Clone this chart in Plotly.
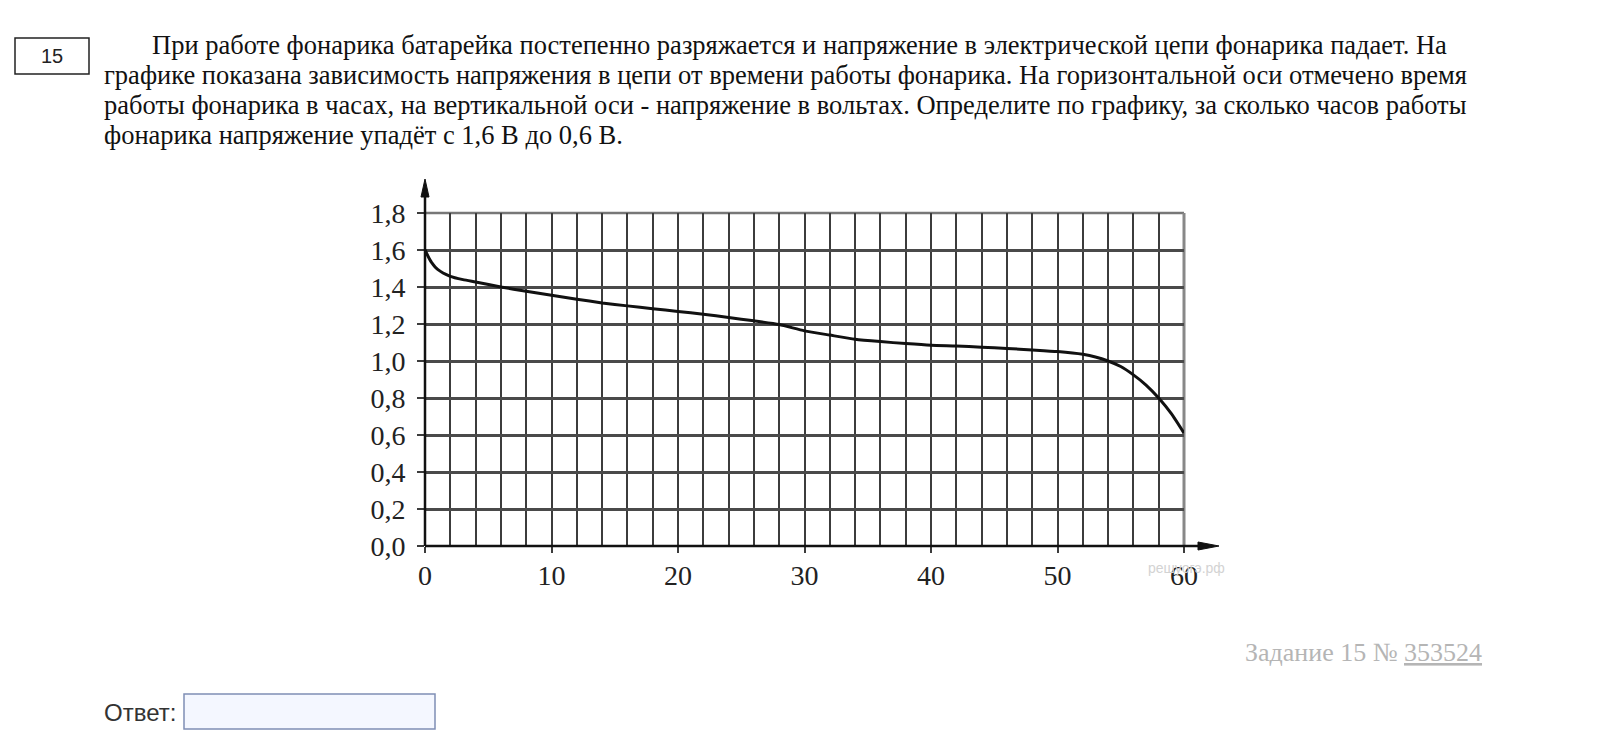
import plotly.graph_objects as go

# ---- data ----
hours = [0, 0.25, 0.5, 1, 2, 3, 4, 6, 8, 10, 12, 14, 16, 18, 20, 22, 24, 26, 28, 30,
         32, 34, 36, 38, 40, 42, 44, 46, 48, 50, 52, 53, 54, 55, 56, 57, 58, 59, 60]
voltage = [1.60, 1.565, 1.535, 1.495, 1.458, 1.44, 1.427, 1.40, 1.377, 1.355, 1.334,
           1.314, 1.298, 1.283, 1.268, 1.253, 1.235, 1.217, 1.197, 1.163, 1.14,
           1.118, 1.105, 1.094, 1.085, 1.081, 1.075, 1.068, 1.06, 1.051, 1.036,
           1.022, 1.0, 0.97, 0.925, 0.87, 0.80, 0.715, 0.61]
x_tick_vals = [0, 10, 20, 30, 40, 50, 60]
y_tick_vals = [0.0, 0.2, 0.4, 0.6, 0.8, 1.0, 1.2, 1.4, 1.6, 1.8]

question_lines = [
    "При работе фонарика батарейка постепенно разряжается и напряжение в электрической цепи фонарика падает. На",
    "графике показана зависимость напряжения в цепи от времени работы фонарика. На горизонтальной оси отмечено время",
    "работы фонарика в часах, на вертикальной оси - напряжение в вольтах. Определите по графику, за сколько часов работы",
    "фонарика напряжение упадёт с 1,6 В до 0,6 В.",
]
task_number = "15"
task_ref = "Задание 15 № <u>353524</u>"
answer_label = "Ответ:"
watermark = "решуогэ.рф"

OFF = 8                      # default page (body) margin of the html page
W, H = 1620 - OFF, 755 - OFF
PLOT_X0, PLOT_X1 = 425, 1184  # plot area in window pixels
PLOT_Y0, PLOT_Y1 = 213, 546
L = PLOT_X0 - OFF
T = PLOT_Y0 - OFF
PW = PLOT_X1 - PLOT_X0
PH = PLOT_Y1 - PLOT_Y0
R = W - L - PW
B = H - T - PH


def px(x):  # window pixel x -> paper
    return (x - PLOT_X0) / PW


def py(y):  # window pixel y -> paper
    return (PLOT_Y1 - y) / PH


SERIF = "Liberation Serif, Times New Roman, serif"
SANS = "Liberation Sans, Arial, sans-serif"

fig = go.Figure()
fig.add_trace(go.Scatter(
    x=hours, y=voltage, mode="lines",
    line=dict(color="#111111", width=3, shape="spline", smoothing=0.6),
    hoverinfo="skip", showlegend=False,
))

grid_col = "#3c3c3c"
fig.update_xaxes(
    range=[0, 60], tickmode="array", tickvals=x_tick_vals,
    showgrid=True, gridcolor=grid_col, gridwidth=2,
    minor=dict(tickmode="linear", tick0=0, dtick=2, showgrid=True,
               gridcolor=grid_col, gridwidth=2, ticks=""),
    ticks="outside", ticklen=6, tickwidth=2, tickcolor=grid_col,
    ticklabelstandoff=-2,
    tickfont=dict(family=SERIF, size=28, color="#222"),
    zeroline=False, showline=False, fixedrange=True,
)
fig.update_yaxes(
    range=[0, 1.8], tickmode="array", tickvals=y_tick_vals, tickformat=".1f",
    showgrid=True, gridcolor="#4a4a4a", gridwidth=2.5,
    ticks="outside", ticklen=7, tickwidth=2, tickcolor=grid_col,
    ticklabelstandoff=6,
    tickfont=dict(family=SERIF, size=28, color="#222"),
    zeroline=False, showline=False, fixedrange=True,
)

shapes = []
# frame lines at the top (1.8) and right (60)
shapes.append(dict(type="line", xref="paper", yref="paper",
                   x0=0, y0=1, x1=1, y1=1,
                   line=dict(color="#777", width=2.5), layer="below"))
shapes.append(dict(type="line", xref="paper", yref="paper",
                   x0=1, y0=0, x1=1, y1=1,
                   line=dict(color="#888", width=3), layer="below"))
# axes with arrows
shapes.append(dict(type="line", xref="paper", yref="paper",
                   x0=px(425), y0=py(546), x1=px(425), y1=py(192),
                   line=dict(color="#111", width=2.5), layer="above"))
shapes.append(dict(type="path", xref="paper", yref="paper",
                   path=f"M {px(425)},{py(179)} L {px(421)},{py(197)} L {px(429)},{py(197)} Z",
                   fillcolor="#111", line=dict(color="#111", width=1), layer="above"))
shapes.append(dict(type="line", xref="paper", yref="paper",
                   x0=px(425), y0=py(546), x1=px(1205), y1=py(546),
                   line=dict(color="#111", width=2.5), layer="above"))
shapes.append(dict(type="path", xref="paper", yref="paper",
                   path=f"M {px(1219)},{py(546)} L {px(1198)},{py(542)} L {px(1198)},{py(550)} Z",
                   fillcolor="#111", line=dict(color="#111", width=1), layer="above"))
# task number box
shapes.append(dict(type="rect", xref="paper", yref="paper",
                   x0=px(15), y0=py(38), x1=px(89), y1=py(74),
                   line=dict(color="#222", width=1.5), fillcolor="white"))
# answer input box
shapes.append(dict(type="rect", xref="paper", yref="paper",
                   x0=px(184), y0=py(694), x1=px(435), y1=py(729),
                   line=dict(color="#7f8fb5", width=1.5), fillcolor="#f4f7ff"))

annotations = []
annotations.append(dict(text=task_number, xref="paper", yref="paper",
                        x=px(52), y=py(56), showarrow=False,
                        xanchor="center", yanchor="middle",
                        font=dict(family=SANS, size=20, color="#222")))
line_y = [45, 75, 105, 135]
line_x = [150, 102, 102, 102]
for txt, lx, ly in zip(question_lines, line_x, line_y):
    annotations.append(dict(text=txt, xref="paper", yref="paper",
                            x=px(lx), y=py(ly), showarrow=False,
                            xanchor="left", yanchor="middle",
                            font=dict(family=SERIF, size=26.5, color="#111")))
annotations.append(dict(text=task_ref, xref="paper", yref="paper",
                        x=px(1484), y=py(652), showarrow=False,
                        xanchor="right", yanchor="middle",
                        font=dict(family=SERIF, size=26, color="#b5b5b5")))
annotations.append(dict(text=answer_label, xref="paper", yref="paper",
                        x=px(102), y=py(712), showarrow=False,
                        xanchor="left", yanchor="middle",
                        font=dict(family=SANS, size=24, color="#333")))
annotations.append(dict(text=watermark, xref="paper", yref="paper",
                        x=px(1146), y=py(568), showarrow=False,
                        xanchor="left", yanchor="middle",
                        font=dict(family=SANS, size=14, color="#d3d3d3")))

fig.update_layout(
    width=W, height=H,
    margin=dict(l=L, r=R, t=T, b=B, autoexpand=False),
    paper_bgcolor="white", plot_bgcolor="white",
    separators=", ",
    shapes=shapes, annotations=annotations,
    showlegend=False,
)

fig.write_html("out.html", config={"displayModeBar": False})
